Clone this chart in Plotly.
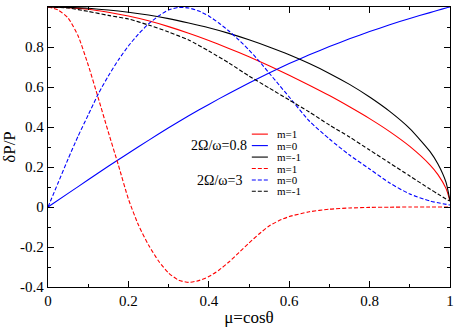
import plotly.graph_objects as go

# mu = cos(theta) sample points
mu_a = [0, 0.05, 0.1, 0.15, 0.2, 0.25, 0.3, 0.35, 0.4, 0.45, 0.5, 0.55, 0.6, 0.65,
        0.7, 0.75, 0.8, 0.85, 0.9, 0.95, 0.97, 0.99, 1.0]
mu_b = [0, 0.025, 0.05, 0.075, 0.1, 0.125, 0.15, 0.175, 0.2, 0.225, 0.25, 0.275, 0.3,
        0.325, 0.35, 0.375, 0.4, 0.425, 0.45, 0.475, 0.5, 0.525, 0.55, 0.575, 0.6,
        0.65, 0.7, 0.75, 0.8, 0.85, 0.9, 0.95, 1.0]

m1_08 = [1.0, 0.997, 0.989, 0.974, 0.955, 0.931, 0.902, 0.869, 0.833, 0.793, 0.751, 0.706,
         0.659, 0.609, 0.557, 0.501, 0.442, 0.377, 0.303, 0.211, 0.162, 0.093, 0.03]
m0_08 = [0, 0.068, 0.136, 0.204, 0.269, 0.333, 0.396, 0.456, 0.513, 0.568, 0.620, 0.670,
         0.717, 0.761, 0.802, 0.841, 0.877, 0.911, 0.943, 0.972, 0.984, 0.995, 1.0]
mm1_08 = [1.0, 0.998, 0.994, 0.985, 0.974, 0.960, 0.942, 0.920, 0.896, 0.868, 0.836, 0.800,
          0.761, 0.717, 0.668, 0.613, 0.550, 0.478, 0.392, 0.278, 0.215, 0.124, 0.03]

# 2Omega/omega = 3 (dashed)
m1_3 = [1.0, 0.985, 0.945, 0.855, 0.71, 0.545, 0.375, 0.21, 0.04, -0.09, -0.19, -0.27,
        -0.33, -0.366, -0.377, -0.368, -0.348, -0.316, -0.275, -0.228, -0.18, -0.135, -0.095,
        -0.068, -0.048, -0.024, -0.011, -0.005, -0.002, -0.001, 0, 0, 0]          # on mu_b
m0_3 = [0, 0.12, 0.24, 0.355, 0.46, 0.565, 0.655, 0.735, 0.805, 0.865, 0.915, 0.955, 0.985,
        0.998, 0.995, 0.98, 0.955, 0.92, 0.88, 0.835, 0.785, 0.73, 0.67, 0.61, 0.55,
        0.43, 0.34, 0.26, 0.19, 0.12, 0.065, 0.03, 0.01]                         # on mu_b
mm1_3 = [1.0, 0.995, 0.978, 0.958, 0.94, 0.91, 0.875, 0.835, 0.78, 0.72, 0.655, 0.595,
         0.535, 0.475, 0.41, 0.35, 0.285, 0.22, 0.155, 0.09, 0.065, 0.04, 0.03]   # on mu_a

x_ticks = [0, 0.2, 0.4, 0.6, 0.8, 1]
x_labels = ['0', '0.2', '0.4', '0.6', '0.8', '1']
y_ticks = [-0.4, -0.2, 0, 0.2, 0.4, 0.6, 0.8, 1]
y_labels = ['-0.4', '-0.2', '0', '0.2', '0.4', '0.6', '0.8', '1']

series = [
    (mu_a, m1_08, 'red', 'solid', 'm=1'),
    (mu_a, m0_08, 'blue', 'solid', 'm=0'),
    (mu_a, mm1_08, 'black', 'solid', 'm=-1'),
    (mu_b, m1_3, 'red', '4px,2px', 'm=1'),
    (mu_b, m0_3, 'blue', '4px,2px', 'm=0'),
    (mu_a, mm1_3, 'black', '4px,2px', 'm=-1'),
]

FONT = "Liberation Serif, Times New Roman, serif"
fig = go.Figure()
for x, y, col, dash, name in series:
    fig.add_trace(go.Scatter(x=x, y=y, mode='lines', name=name, showlegend=False,
                             line=dict(color=col, width=1.1, dash=dash, shape='spline', smoothing=0.6)))

# hand-made legend (tight rows like the original)
leg_y = [0.546, 0.505, 0.464, 0.423, 0.382, 0.342]
for (x, y, col, dash, name), ly in zip(series, leg_y):
    fig.add_shape(type='line', xref='paper', yref='paper', x0=0.507, x1=0.547, y0=ly, y1=ly,
                  line=dict(color=col, width=1.1, dash=dash))
    fig.add_annotation(xref='paper', yref='paper', x=0.566, y=ly, text=name, showarrow=False,
                       xanchor='left', yanchor='middle', borderpad=0,
                       font=dict(family=FONT, size=11, color='black'))
fig.add_annotation(xref='paper', yref='paper', x=0.498, y=leg_y[1], text='2Ω/ω=0.8', showarrow=False,
                   xanchor='right', yanchor='middle', borderpad=0,
                   font=dict(family=FONT, size=14, color='black'))
fig.add_annotation(xref='paper', yref='paper', x=0.485, y=leg_y[4], text='2Ω/ω=3', showarrow=False,
                   xanchor='right', yanchor='middle', borderpad=0,
                   font=dict(family=FONT, size=14, color='black'))

axis_common = dict(showline=True, linecolor='black', linewidth=1.3, mirror='ticks', ticks='inside',
                   ticklen=6, tickcolor='black', tickwidth=1, showgrid=False, zeroline=False,
                   tickfont=dict(family=FONT, size=15, color='black'))
fig.update_xaxes(range=[0, 1], tickvals=x_ticks, ticktext=x_labels,
                 minor=dict(ticks='inside', ticklen=3, dtick=0.1, tickcolor='black'),
                 title=dict(text='μ=cosθ', font=dict(family=FONT, size=17, color='black'), standoff=2),
                 **axis_common)
fig.update_yaxes(range=[-0.4, 1], tickvals=y_ticks, ticktext=y_labels,
                 minor=dict(ticks='inside', ticklen=3, dtick=0.1, tickcolor='black'),
                 title=dict(text='δP/P', font=dict(family=FONT, size=17, color='black'), standoff=3),
                 **axis_common)
fig.update_layout(width=458, height=327, margin=dict(l=48, r=4, t=7, b=36),
                  font=dict(family=FONT, color='black'),
                  plot_bgcolor='white', paper_bgcolor='white')
fig.write_html('out.html', config={'displayModeBar': False},
               post_script="document.body.style.margin='0';")
